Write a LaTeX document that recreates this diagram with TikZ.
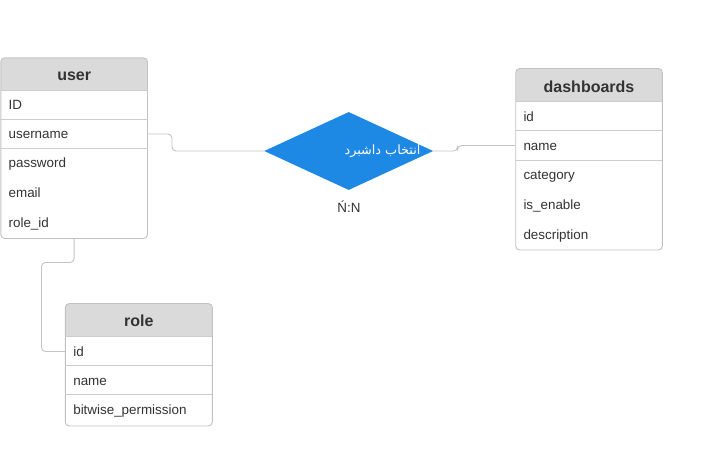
\documentclass[tikz,border=0pt]{standalone}
\usepackage{fontspec}
\setmainfont{Liberation Sans}
\newfontfamily\arabicfont[Script=Arabic]{DejaVu Sans}
\TeXXeTstate=1
\usetikzlibrary{shapes.geometric}
\definecolor{hdrfill}{HTML}{DADADA}
\definecolor{tblborder}{HTML}{C2C2C2}
\definecolor{sepcol}{HTML}{CCCCCC}
\definecolor{txtcol}{HTML}{333333}
\definecolor{conncol}{HTML}{C4C4C4}
\definecolor{relblue}{HTML}{1E88E5}
\tikzset{
  tblbox/.style={draw=tblborder, line width=0.9pt, rounded corners=4pt, inner sep=0pt, fill=none},
  hdrtxt/.style={font=\fontsize{16}{18}\selectfont\bfseries, text=txtcol, inner sep=0pt, text height=11.5pt, text depth=0pt},
  rowtxt/.style={font=\fontsize{13.4}{15}\selectfont, text=txtcol, inner xsep=8pt, inner ysep=0pt, align=left, text width=131pt, text height=9.6pt, text depth=0pt},
  sepline/.style={draw=sepcol, line width=0.9pt},
  conn/.style={draw=conncol, line width=0.9pt, rounded corners=4pt},
  relshape/.style={diamond, fill=relblue, draw=none, inner sep=0pt, minimum width=169pt, minimum height=78pt}
}
\begin{document}
\begin{tikzpicture}[x=1pt,y=-1pt]
\useasboundingbox (0,0) rectangle (703,455);
\fill[white] (0,0) rectangle (703,455);

% ---------- user table ----------
\begin{scope}
\clip[rounded corners=4pt] (0.8,57.8) rectangle (147.5,238.5);
\fill[hdrfill] (0.8,57.8) rectangle (147.5,90.5);
\end{scope}
\node[tblbox, minimum width=146.7pt, minimum height=180.7pt] (user) at (74.15,148.15) {};
\draw[sepline] (0.8,90.5) -- (147.5,90.5);
\draw[sepline] (0.8,119.5) -- (147.5,119.5);
\draw[sepline] (0.8,148.5) -- (147.5,148.5);
\node[hdrtxt] (user-title) at (74.15,74.5) {user};
\node[rowtxt] (user-id) at (74.15,104.5) {ID};
\node[rowtxt] (user-username) at (74.15,134) {username};
\node[rowtxt] (user-password) at (74.15,162.5) {password};
\node[rowtxt] (user-email) at (74.15,192.5) {email};
\node[rowtxt] (user-roleid) at (74.15,222.5) {role\_id};

% ---------- dashboards table ----------
\begin{scope}
\clip[rounded corners=4pt] (515.7,68.5) rectangle (662.3,250);
\fill[hdrfill] (515.7,68.5) rectangle (662.3,101.7);
\end{scope}
\node[tblbox, minimum width=146.6pt, minimum height=181.5pt] (dash) at (589,159.25) {};
\draw[sepline] (515.7,101.7) -- (662.3,101.7);
\draw[sepline] (515.7,130.7) -- (662.3,130.7);
\draw[sepline] (515.7,160) -- (662.3,160);
\node[hdrtxt] (dash-title) at (589,86.5) {dashboards};
\node[rowtxt] (dash-id) at (589,116.5) {id};
\node[rowtxt] (dash-name) at (589,145.5) {name};
\node[rowtxt] (dash-category) at (589,174.5) {category};
\node[rowtxt] (dash-enable) at (589,204.5) {is\_enable};
\node[rowtxt] (dash-desc) at (589,234.5) {description};

% ---------- role table ----------
\begin{scope}
\clip[rounded corners=4pt] (65.3,303.5) rectangle (212.3,426);
\fill[hdrfill] (65.3,303.5) rectangle (212.3,336.7);
\end{scope}
\node[tblbox, minimum width=147pt, minimum height=122.5pt] (role) at (138.8,364.75) {};
\draw[sepline] (65.3,336.7) -- (212.3,336.7);
\draw[sepline] (65.3,365.7) -- (212.3,365.7);
\draw[sepline] (65.3,394.7) -- (212.3,394.7);
\node[hdrtxt] (role-title) at (138.8,320.5) {role};
\node[rowtxt] (role-id) at (138.8,351.5) {id};
\node[rowtxt] (role-name) at (138.8,380.5) {name};
\node[rowtxt] (role-perm) at (138.8,409.5) {bitwise\_permission};

% ---------- relationship ----------
\node[relshape] (rel) at (348.7,151) {};
\node[font=\arabicfont\fontsize{12.8}{15}\selectfont, text=white, inner sep=0pt] (rel-label) at (382.5,151) {\beginR انتخاب داشبرد\endR};
\node[font=\fontsize{13.4}{15}\selectfont, text=txtcol, inner sep=0pt] (card) at (349,206.5) {Ń:N};

% ---------- connectors ----------
\coordinate (c1) at (172,151);
\coordinate (c2) at (457.5,151);
\coordinate (c3) at (74.15,262.5);
\coordinate (c4) at (41.5,351.5);
\draw[conn] (user-username.east) -| (c1) -- (rel.west);
\draw[conn] (rel.east) -- (c2) |- (dash-name.west);
\draw[conn] (user.south) -- (c3) -| (c4) -- (role-id.west);
\end{tikzpicture}
\end{document}
